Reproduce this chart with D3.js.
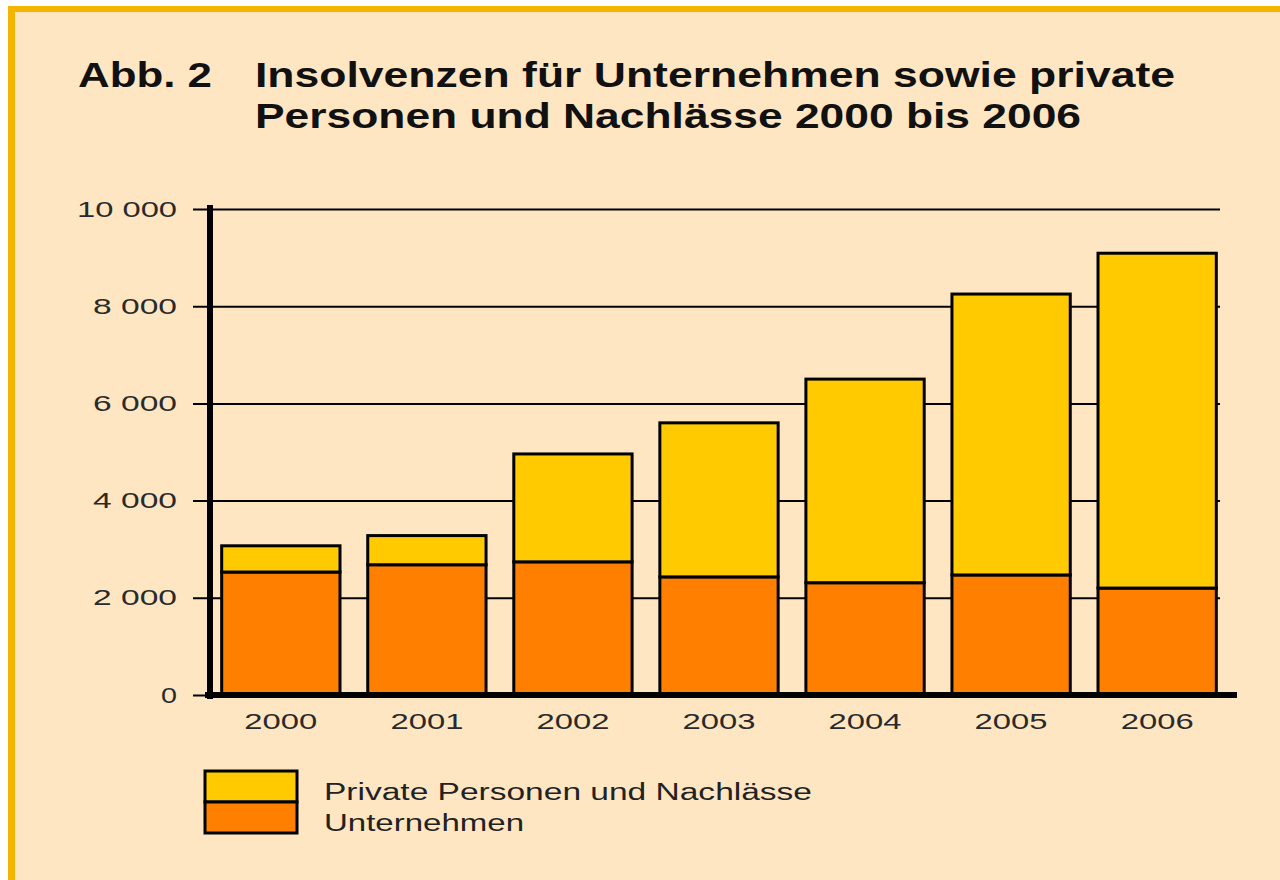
<!DOCTYPE html>
<html>
<head>
  <meta charset="UTF-8">
  <title>Insolvenzen 2000 bis 2006</title>
<style>
    body { margin: 0; background: #ffffff; }
    svg { display: block; }
    text { font-family: "Liberation Sans", Arial, Helvetica, sans-serif; }
    .tick text { fill: #2a2a2a; font-size: 22px; }
</style>
</head>
<body>
<svg></svg>
<script src="https://d3js.org/d3.v7.min.js"></script>
<script>

let width = 1280, height = 880;

// Data
let years = ["2000", "2001", "2002", "2003", "2004", "2005", "2006"];
let unternehmen = [2530, 2680, 2740, 2430, 2310, 2470, 2200];
let privatePersonen = [540, 600, 2220, 3170, 4190, 5780, 6890];
let yTicks = [0, 2000, 4000, 6000, 8000, 10000];
let seriesNames = ["Unternehmen", "Private Personen und Nachlässe"];
let seriesColors = ["#ff8000", "#ffca00"];

let svg = d3.select("svg")
    .attr("width", width)
    .attr("height", height);

// frame: orange border on top/left, light background
svg.append("rect")
    .attr("x", 8).attr("y", 6)
    .attr("width", width).attr("height", height)
    .attr("fill", "#f5b400");
svg.append("rect")
    .attr("x", 15).attr("y", 12)
    .attr("width", width).attr("height", height)
    .attr("fill", "#ffe6c3");

// title
let title = svg.append("g").attr("font-weight", "bold").attr("font-size", 35).attr("fill", "#111");
title.append("text").attr("x", 78).attr("y", 87).attr("textLength", 134).attr("lengthAdjust", "spacingAndGlyphs").text("Abb. 2");
title.append("text").attr("x", 255).attr("y", 87).attr("textLength", 920).attr("lengthAdjust", "spacingAndGlyphs")
    .text("Insolvenzen für Unternehmen sowie private");
title.append("text").attr("x", 255).attr("y", 128).attr("textLength", 826).attr("lengthAdjust", "spacingAndGlyphs")
    .text("Personen und Nachlässe 2000 bis 2006");

// scales
let x = d3.scaleBand()
    .domain(years)
    .range([210, 1228])
    .paddingInner(0.19)
    .paddingOuter(0.08);

let y = d3.scaleLinear()
    .domain([0, 10000])
    .range([695, 209]);

let fmt = d3.formatLocale({ decimal: ",", thousands: " ", grouping: [3], currency: ["", ""] }).format(",d");

// gridlines + y labels (axis placed on the right so the ticks span the plot)
let yAxis = svg.append("g")
    .attr("transform", "translate(1220,0)")
    .call(d3.axisLeft(y).tickValues(yTicks).tickFormat(fmt).tickSize(1027).tickPadding(16));
yAxis.select(".domain").remove();
yAxis.selectAll(".tick line").attr("stroke", "#000").attr("stroke-width", 2);
yAxis.selectAll(".tick text").attr("textLength", d => d >= 10000 ? 100 : (d == 0 ? 16 : 84))
    .attr("lengthAdjust", "spacingAndGlyphs");

// stacked bars
let table = years.map((yr, i) => ({ year: yr, Unternehmen: unternehmen[i], "Private Personen und Nachlässe": privatePersonen[i] }));
let stacked = d3.stack().keys(seriesNames)(table);

svg.append("g")
    .selectAll("g")
    .data(stacked)
    .enter()
    .append("g")
    .attr("fill", (d, i) => seriesColors[i])
    .selectAll("rect")
    .data(d => d)
    .enter()
    .append("rect")
    .attr("x", d => x(d.data.year))
    .attr("y", d => y(d[1]))
    .attr("width", x.bandwidth())
    .attr("height", d => y(d[0]) - y(d[1]))
    .attr("stroke", "#000")
    .attr("stroke-width", 3);

// x labels
let xAxis = svg.append("g")
    .attr("transform", "translate(0,695)")
    .call(d3.axisBottom(x).tickSize(0).tickPadding(18));
xAxis.select(".domain").remove();
xAxis.selectAll(".tick text").attr("textLength", 73).attr("lengthAdjust", "spacingAndGlyphs");

// thick axis lines
svg.append("line")
    .attr("x1", 210).attr("x2", 210)
    .attr("y1", 205).attr("y2", 699)
    .attr("stroke", "#000").attr("stroke-width", 6);
svg.append("line")
    .attr("x1", 205).attr("x2", 1237)
    .attr("y1", 695).attr("y2", 695)
    .attr("stroke", "#000").attr("stroke-width", 6);

// legend
let legendItems = [
    { name: seriesNames[1], color: seriesColors[1], y: 771, tl: 488 },
    { name: seriesNames[0], color: seriesColors[0], y: 802, tl: 200 }
];
let legend = svg.append("g");
legend.selectAll("rect")
    .data(legendItems)
    .enter()
    .append("rect")
    .attr("x", 205)
    .attr("y", d => d.y)
    .attr("width", 92)
    .attr("height", 31)
    .attr("fill", d => d.color)
    .attr("stroke", "#000")
    .attr("stroke-width", 3);
legend.selectAll("text")
    .data(legendItems)
    .enter()
    .append("text")
    .attr("x", 324)
    .attr("y", d => d.y + 29)
    .attr("font-size", 23)
    .attr("fill", "#222")
    .attr("textLength", d => d.tl)
    .attr("lengthAdjust", "spacingAndGlyphs")
    .text(d => d.name);

</script>
</body>
</html>
